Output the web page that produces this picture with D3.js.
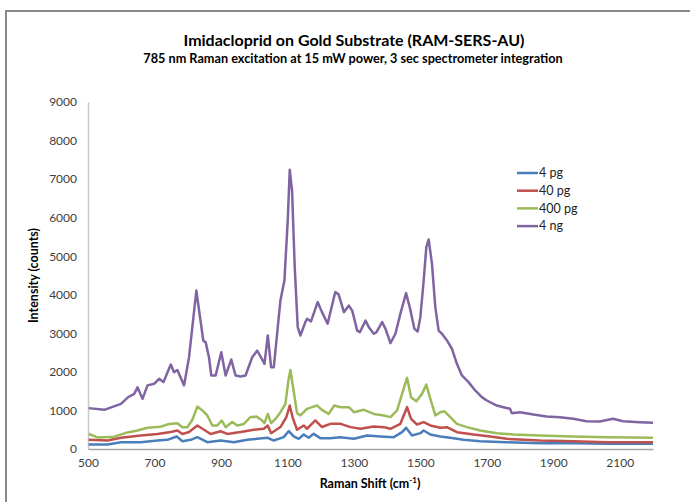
<!DOCTYPE html>
<html>
<head>
<meta charset="utf-8">
<script src="https://cdn.jsdelivr.net/npm/d3@7"></script>
<style>
  body { margin: 0; background: #fff; }
  text { font-family: Lato, "Open Sans", sans-serif; }
</style>
</head>
<body>
<div id="chart"></div>
<script>
// values: [Raman shift, counts]
var seriesNames = ["4 pg", "40 pg", "400 pg", "4 ng"]
var seriesColors = ["#4a7ebb", "#c0504d", "#9bbb59", "#8064a2"]
var xTicks = [500, 700, 900, 1100, 1300, 1500, 1700, 1900, 2100]
var yTicks = [0, 1000, 2000, 3000, 4000, 5000, 6000, 7000, 8000, 9000]

var pg4 = [[502,117],[559,117],[599,177],[659,177],[709,220],[739,238],[767,325],[784,203],[809,238],[829,307],[859,177],[899,220],[939,177],[979,238],[1009,264],[1041,290],[1059,220],[1089,307],[1104,463],[1119,325],[1134,264],[1149,376],[1164,290],[1179,393],[1199,281],[1229,281],[1259,307],[1300,264],[1340,350],[1380,325],[1420,307],[1445,437],[1457,550],[1475,350],[1500,411],[1510,480],[1530,376],[1560,325],[1590,290],[1630,238],[1680,203],[1760,177],[1860,150],[1960,150],[2060,133],[2200,133]]

var pg40 = [[502,238],[559,220],[599,290],[659,350],[709,390],[749,440],[769,480],[784,390],[804,440],[829,610],[849,500],[869,390],[899,460],[919,390],[959,440],[999,500],[1029,525],[1041,610],[1051,410],[1079,570],[1097,830],[1107,1128],[1117,780],[1129,500],[1149,610],[1159,525],[1184,740],[1204,570],[1229,653],[1260,653],[1290,567],[1320,523],[1360,584],[1390,567],[1410,523],[1440,653],[1460,1085],[1472,783],[1490,636],[1510,696],[1530,610],[1560,550],[1580,567],[1610,437],[1660,376],[1710,325],[1760,264],[1860,220],[1960,203],[2060,177],[2200,177]]

var pg400 = [[502,390],[529,300],[579,320],[619,430],[649,480],[679,550],[719,580],[744,650],[769,670],[784,565],[799,565],[814,760],[829,1100],[844,1000],[859,870],[874,610],[889,610],[902,740],[914,565],[934,700],[949,610],[969,650],[989,830],[1007,840],[1021,760],[1031,670],[1041,910],[1051,670],[1064,780],[1079,955],[1094,1170],[1103,1776],[1109,2050],[1117,1600],[1129,930],[1139,870],[1159,1040],[1174,1085],[1189,1128],[1204,1016],[1224,910],[1241,1128],[1260,1085],[1285,1085],[1300,955],[1330,1016],[1360,910],[1390,870],[1410,826],[1430,1000],[1445,1430],[1460,1846],[1472,1345],[1488,1240],[1505,1430],[1518,1673],[1530,1300],[1545,870],[1560,955],[1572,980],[1590,826],[1610,653],[1640,567],[1680,480],[1730,411],[1780,376],[1860,350],[1960,325],[2060,307],[2200,290]]

var ng4 = [[502,1060],[549,1016],[599,1170],[621,1345],[639,1430],[649,1600],[664,1300],[679,1650],[699,1690],[714,1820],[727,1735],[749,2190],[759,1990],[769,2050],[779,1850],[789,1650],[804,2380],[826,4110],[837,3420],[847,2810],[854,2770],[864,2380],[871,1907],[884,1907],[901,2510],[914,1907],[931,2320],[944,1907],[959,1880],[974,1907],[994,2380],[1009,2550],[1019,2400],[1031,2210],[1041,2945],[1051,2120],[1059,2120],[1071,3160],[1079,3850],[1091,4370],[1101,5930],[1107,7240],[1114,6700],[1122,4720],[1131,3160],[1139,2945],[1154,3290],[1159,3380],[1171,3310],[1191,3810],[1204,3550],[1221,3250],[1244,4070],[1254,4010],[1270,3550],[1285,3720],[1295,3590],[1310,3070],[1318,3030],[1335,3330],[1345,3160],[1360,2990],[1368,3030],[1385,3290],[1395,3120],[1410,2745],[1425,2990],[1440,3510],[1457,4043],[1468,3680],[1482,3120],[1492,3050],[1500,3420],[1510,4370],[1518,5236],[1525,5435],[1535,4800],[1545,3680],[1555,3070],[1565,2990],[1580,2815],[1595,2600],[1610,2210],[1625,1907],[1645,1735],[1665,1518],[1685,1345],[1700,1258],[1730,1128],[1750,1085],[1770,1042],[1775,930],[1800,955],[1840,895],[1880,843],[1920,826],[1960,783],[2000,722],[2040,713],[2080,783],[2110,722],[2160,696],[2200,680]]

var allSeries = [pg4, pg40, pg400, ng4]

var width = 690, height = 502
var plot = {left: 88, right: 653, top: 102, bottom: 449}

var svg = d3.select("#chart").append("svg")
  .attr("width", width)
  .attr("height", height)

// chart frame (only left and top edges fall inside the picture)
svg.append("path")
  .attr("d", "M6,502V11H690")
  .attr("fill", "none")
  .attr("stroke", "#8a8a8a")
  .attr("stroke-width", 2)

var x = d3.scaleLinear().domain([500, 2200]).range([plot.left, plot.right])
var y = d3.scaleLinear().domain([0, 9000]).range([plot.bottom, plot.top])

var yAxis = svg.append("g")
  .attr("transform", "translate(" + plot.left + ",0)")
  .call(d3.axisLeft(y).tickValues(yTicks).tickSize(0).tickPadding(11).tickFormat(d3.format("d")))
yAxis.select(".domain").attr("stroke", "#c8c8c8").attr("stroke-width", 1.5)

var xAxis = svg.append("g")
  .attr("transform", "translate(0," + plot.bottom + ")")
  .call(d3.axisBottom(x).tickValues(xTicks).tickSize(0).tickPadding(9).tickFormat(d3.format("d")))
xAxis.select(".domain").attr("stroke", "#a6a6a6").attr("stroke-width", 1.5)

svg.selectAll(".tick text")
  .attr("font-family", "Lato, sans-serif")
  .attr("font-size", 12)
  .attr("fill", "#404040")

var line = d3.line()
  .x(d => x(d[0]))
  .y(d => y(d[1]))

svg.append("g")
  .selectAll("path")
  .data(allSeries)
  .join("path")
  .attr("d", line)
  .attr("fill", "none")
  .attr("stroke", (d, i) => seriesColors[i])
  .attr("stroke-width", 2.5)
  .attr("stroke-linejoin", "round")

// titles
svg.append("text")
  .attr("x", 354).attr("y", 46)
  .attr("text-anchor", "middle")
  .attr("font-size", 16).attr("font-weight", "bold")
  .text("Imidacloprid on Gold Substrate (RAM-SERS-AU)")

svg.append("text")
  .attr("x", 353).attr("y", 63)
  .attr("text-anchor", "middle")
  .attr("font-size", 12.7).attr("font-weight", "bold")
  .text("785 nm Raman excitation at 15 mW power, 3 sec spectrometer integration")

var xTitle = svg.append("text")
  .attr("x", 370).attr("y", 488)
  .attr("text-anchor", "middle")
  .attr("font-size", 12.5).attr("font-weight", "bold")
xTitle.append("tspan").text("Raman Shift (cm")
xTitle.append("tspan").attr("dy", -5).attr("font-size", 8).text("-1")
xTitle.append("tspan").attr("dy", 5).text(")")

svg.append("text")
  .attr("transform", "translate(38," + (plot.top + plot.bottom) / 2 + ") rotate(-90)")
  .attr("text-anchor", "middle")
  .attr("font-size", 12.5).attr("font-weight", "bold")
  .text("Intensity (counts)")

// legend
var legend = svg.append("g")
  .selectAll("g")
  .data(seriesNames)
  .join("g")
  .attr("transform", (d, i) => "translate(517," + (173 + i * 17.7) + ")")

legend.append("line")
  .attr("x1", 0).attr("x2", 21)
  .attr("stroke", (d, i) => seriesColors[i])
  .attr("stroke-width", 2.5)

legend.append("text")
  .attr("x", 22).attr("dy", "0.35em")
  .attr("font-size", 12.5)
  .attr("fill", "#222")
  .text(d => d)
</script>
</body>
</html>
